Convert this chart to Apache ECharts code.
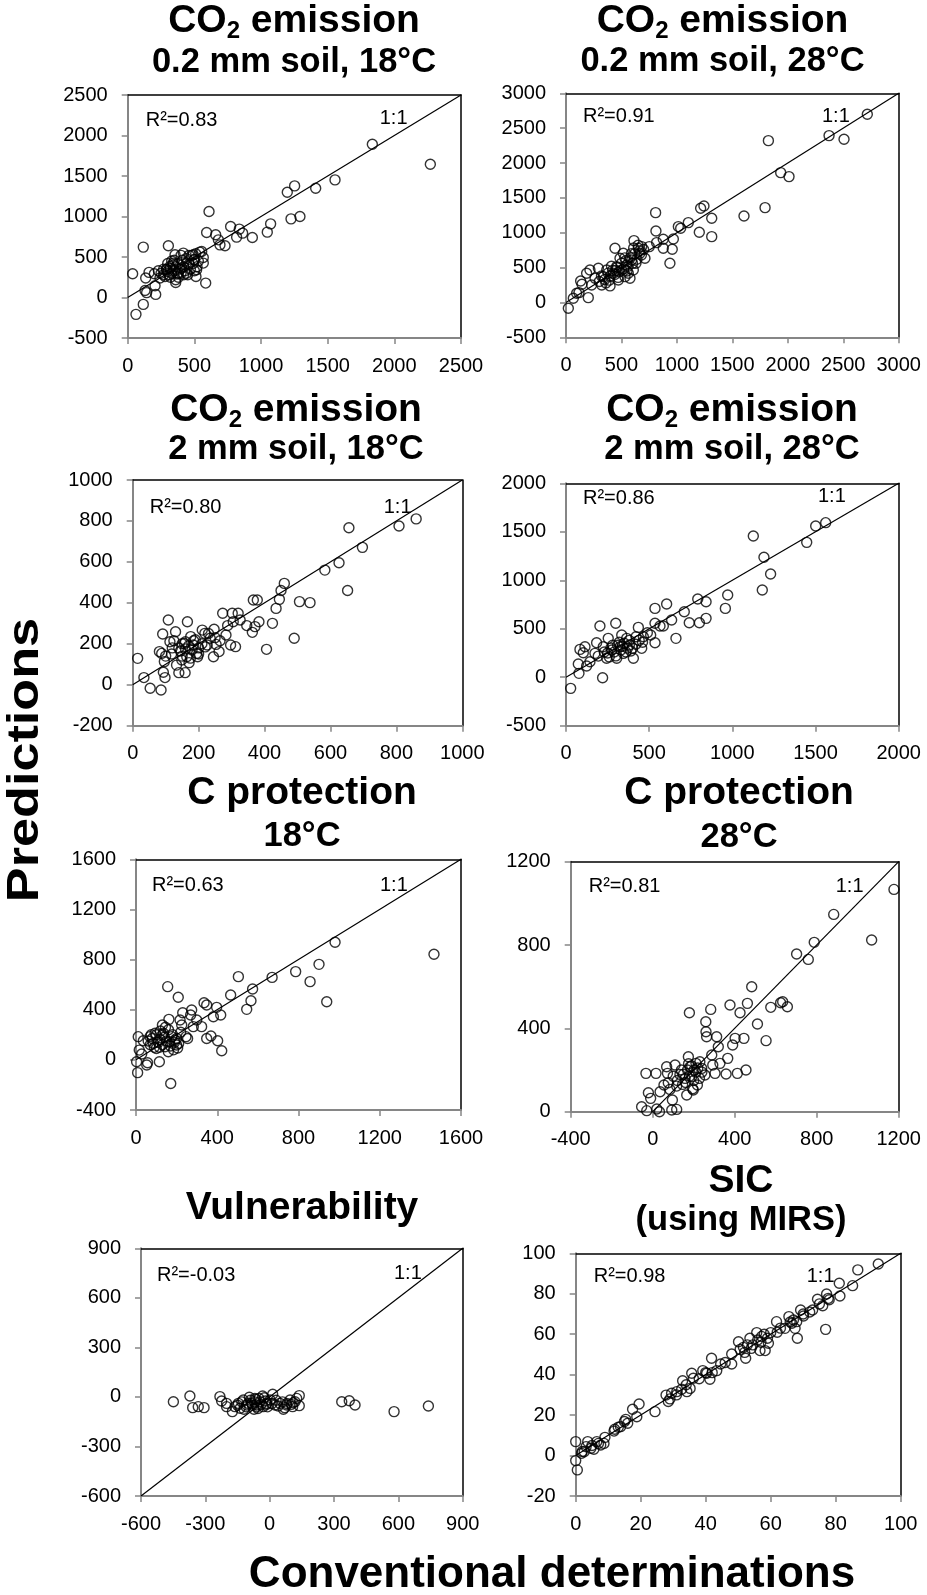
<!DOCTYPE html>
<html><head><meta charset="utf-8">
<script src="https://cdn.jsdelivr.net/npm/echarts@6/dist/echarts.min.js"></script>
<style>html,body{margin:0;padding:0;background:#fff}#c{width:927px;height:1595px}</style>
</head><body><div id="c"></div>
<script>
// ---------- DATA (conventional determination, prediction) ----------
const co2_02mm_18C = [[37,293],[117,622],[62,-208],[117,-85],[130,87],[142,60],[135,240],[160,310],[205,145],[210,38],[200,293],[230,330],[242,240],[305,638],[280,260],[292,342],[317,383],[342,425],[355,527],[360,186],[380,301],[405,363],[417,548],[442,425],[492,527],[497,466],[512,260],[517,342],[555,568],[567,494],[567,425],[585,178],[610,1061],[592,803],[660,774],[680,712],[692,650],[730,638],[772,877],[817,745],[837,844],[862,795],[935,741],[1047,807],[1072,909],[1197,1300],[1252,1378],[1225,971],[1292,1000],[1410,1349],[1555,1452],[1835,1892],[2270,1645],
[250,300],[270,280],[290,350],[300,320],[310,280],[320,360],[330,300],[340,400],[350,330],[360,380],[370,290],[380,420],[390,350],[400,300],[410,460],[420,380],[430,330],[440,480],[450,280],[460,410],[470,350],[480,520],[490,420],[500,470],[510,540],[520,380],[530,450],[540,560],[300,420],[320,250],[350,460],[380,250],[400,520],[420,280],[440,300],[270,350],[330,450],[360,220],[460,520],[500,330]];
const co2_02mm_28C = [[21,-84],[66,60],[96,131],[117,141],[132,308],[144,260],[186,418],[216,466],[201,69],[231,251],[262,347],[292,490],[322,251],[337,370],[367,466],[397,237],[427,418],[442,777],[457,514],[472,323],[487,633],[502,466],[517,705],[532,370],[547,538],[562,418],[577,347],[592,609],[607,466],[613,887],[631,562],[652,777],[667,705],[682,801],[712,633],[751,801],[808,1288],[811,1025],[817,858],[877,906],[877,777],[958,763],[968,911],[937,562],[1013,1088],[1034,1064],[1103,1145],[1202,1006],[1214,1351],[1244,1384],[1314,1207],[1314,944],[1605,1241],[1795,1360],[1825,2321],[1936,1862],[2011,1805],[2372,2393],[2507,2340],[2717,2699],
[300,300],[320,380],[350,330],[380,420],[400,380],[420,460],[440,400],[460,500],[480,440],[500,560],[520,480],[540,600],[560,520],[580,640],[600,560],[620,700],[640,620],[660,740],[680,680],[700,760],[360,280],[410,520],[470,360],[530,640],[590,700],[650,820],[550,450],[450,460],[390,320],[610,780]];
const co2_2mm_18C = [[15,129],[34,35],[53,-17],[86,-26],[81,162],[88,153],[91,248],[93,61],[98,35],[96,113],[108,316],[113,210],[118,150],[125,215],[130,259],[133,96],[140,59],[149,121],[159,59],[166,308],[157,202],[164,137],[171,108],[176,235],[184,194],[194,153],[197,137],[211,267],[219,251],[226,194],[235,227],[245,137],[247,271],[253,197],[262,162],[273,349],[283,243],[288,289],[297,194],[302,349],[305,308],[312,186],[320,349],[326,316],[346,289],[363,256],[366,414],[378,414],[371,284],[383,308],[406,173],[424,300],[435,373],[445,417],[450,460],[460,495],[490,227],[506,406],[538,401],[583,560],[626,596],[652,460],[656,767],[697,671],[808,775],[860,810],
[140,180],[150,200],[160,210],[170,190],[180,170],[190,220],[200,180],[210,200],[150,140],[175,130],[120,180],[100,140],[230,250],[250,230],[265,215],[200,150],[185,215],[145,165],[160,175],[220,185]];
const co2_2mm_28C = [[28,-115],[78,40],[74,136],[84,287],[114,315],[104,253],[124,115],[144,160],[174,246],[184,356],[194,218],[204,528],[220,-5],[224,315],[244,195],[254,401],[275,280],[299,556],[305,195],[325,315],[335,435],[345,246],[365,401],[381,332],[405,195],[421,418],[435,514],[455,298],[465,418],[489,459],[509,435],[535,556],[535,710],[535,356],[565,528],[585,528],[605,755],[635,590],[661,401],[711,676],[741,562],[792,807],[802,562],[842,779],[842,607],[958,710],[972,848],[1126,1457],[1180,900],[1190,1237],[1230,1065],[1447,1391],[1501,1560],[1561,1594],
[250,250],[270,300],[290,260],[310,330],[330,280],[350,350],[370,300],[390,270],[300,220],[320,360],[340,320],[360,260],[280,330],[230,260],[260,210],[380,380],[400,300],[420,340],[440,380],[460,360]];
const cprot_18C = [[3,-15],[8,-102],[11,185],[16,78],[28,47],[36,153],[53,-41],[57,-23],[69,185],[85,132],[94,212],[115,-15],[118,164],[130,278],[135,212],[143,105],[156,584],[159,65],[162,323],[171,-188],[176,185],[192,158],[200,118],[208,499],[217,318],[225,278],[230,376],[246,185],[254,171],[269,358],[274,398],[282,265],[299,318],[323,265],[335,456],[348,438],[348,171],[369,190],[381,344],[397,419],[402,153],[417,358],[422,73],[466,517],[504,664],[545,403],[566,472],[574,565],[670,658],[786,704],[857,624],[901,762],[939,464],[980,938],[1467,842],
[60,150],[70,120],[80,170],[90,100],[100,200],[110,140],[120,230],[130,120],[140,180],[150,150],[160,240],[170,110],[180,200],[190,140],[200,170],[210,130],[220,220],[100,90],[130,200],[75,200],[145,260],[115,100],[185,80],[165,145],[205,95]];
const cprot_28C = [[-54,24],[-29,5],[-33,184],[-21,91],[-10,64],[16,184],[20,13],[33,0],[36,96],[55,128],[68,216],[72,184],[76,139],[84,107],[96,56],[93,8],[109,224],[117,11],[117,123],[133,179],[146,131],[158,160],[166,80],[174,264],[179,475],[182,216],[190,168],[198,104],[202,200],[211,232],[218,128],[228,160],[239,208],[255,176],[259,432],[260,384],[263,360],[283,491],[288,272],[293,224],[304,184],[312,360],[320,312],[328,232],[358,181],[366,256],[377,512],[390,320],[402,352],[413,184],[426,475],[445,352],[455,200],[462,520],[483,600],[511,421],[553,341],[576,501],[624,523],[634,528],[657,504],[702,757],[759,731],[788,813],[883,947],[1068,824],[1177,1067],
[150,180],[170,200],[190,220],[200,150],[210,190],[160,140],[180,170],[220,210],[140,200],[230,240],[120,150],[100,170],[175,230],[195,110],[240,190]];
const vulnerability = [[-449,-29],[-372,6],[-359,-65],[-333,-59],[-306,-65],[-232,2],[-224,-25],[-201,-39],[-201,-59],[-174,-89],[-162,-59],[-146,-39],[-138,-69],[-123,-19],[-107,-49],[-95,-2],[-84,-39],[-73,-75],[-69,-9],[-61,-49],[-45,-29],[-30,-59],[-33,6],[-14,-39],[2,-19],[14,16],[25,-49],[48,-39],[64,-75],[79,-49],[95,-19],[107,-59],[118,-29],[126,-9],[138,8],[138,-53],[336,-29],[371,-23],[398,-49],[580,-89],[740,-55],
[-130,-30],[-110,-60],[-90,-20],[-80,-50],[-70,-30],[-60,-60],[-50,-10],[-40,-45],[-20,-25],[-10,-60],[10,-40],[30,-20],[40,-55],[60,-30],[80,-40],[100,-45],[-150,-50],[-100,-40],[-55,-70],[-25,-5],[110,-35],[-120,-75],[70,-65],[-15,-45],[-65,-15]];
const sic_mirs = [[0,6.9],[0,-2.5],[0.5,-7.1],[1.8,1.1],[2.6,1.9],[3.2,4.4],[3.7,6.9],[4.7,3.6],[5.6,3.1],[6.5,6.9],[7.0,6.0],[7.7,5.2],[8.7,6.0],[11.8,12.1],[13.1,14.0],[13.8,14.3],[15.0,16.8],[15.4,17.9],[17.5,22.9],[18.8,19.2],[19.5,25.5],[24.4,21.7],[27.8,29.9],[28.5,26.7],[29.5,30.8],[31.1,31.6],[32.6,32.8],[32.9,37.0],[34.2,31.6],[35.2,33.2],[35.7,40.7],[36.2,38.2],[39.1,42.0],[40.3,40.7],[41.3,37.7],[41.8,48.1],[43.4,42.0],[44.6,45.3],[48.0,45.3],[48.0,50.2],[50.1,56.3],[50.6,52.5],[51.6,53.5],[52.3,48.1],[52.8,54.7],[53.6,58.0],[54.5,54.7],[55.7,60.8],[56.0,57.1],[56.7,51.9],[57.2,58.9],[58.3,51.9],[59.3,55.5],[60.0,60.8],[61.8,66.2],[64.4,62.9],[65.6,68.7],[66.5,65.4],[67.5,62.9],[68.2,58.0],[68.0,66.2],[69.2,72.0],[70.1,69.0],[72.9,72.0],[74.4,77.3],[76.0,74.1],[76.9,62.4],[77.2,79.9],[77.7,77.7],[81.1,85.2],[81.3,78.9],[85.2,84.0],[86.8,91.8],[93.1,94.7],
[2,2],[5,5],[9,9],[12,13],[16,16],[29,28],[31,30],[34,35],[38,38],[40,41],[42,41],[46,46],[52,51],[54,53],[57,56],[59,58],[63,63],[66,66],[70,70],[72,71],[75,75],[78,77],[58,60],[62,61],[67,67]];

const panelData = [co2_02mm_18C, co2_02mm_28C, co2_2mm_18C, co2_2mm_28C, cprot_18C, cprot_28C, vulnerability, sic_mirs];
// axis ranges: [min, max, interval]
const xRanges = [[0,2500,500],[0,3000,500],[0,1000,200],[0,2000,500],[0,1600,400],[-400,1200,400],[-600,900,300],[0,100,20]];
const yRanges = [[-500,2500,500],[-500,3000,500],[-200,1000,200],[-500,2000,500],[-400,1600,400],[0,1200,400],[-600,900,300],[-20,100,20]];
const oneToOne = [[0,2500],[0,3000],[0,1000],[0,2000],[0,1600],[0,1200],[-600,900],[0,100]];
const r2Labels = ['R²=0.83','R²=0.91','R²=0.80','R²=0.86','R²=0.63','R²=0.81','R²=-0.03','R²=0.98'];
const titleLine1 = ['{a|CO}{s|2}{a| emission}','{a|CO}{s|2}{a| emission}','{a|CO}{s|2}{a| emission}','{a|CO}{s|2}{a| emission}','C protection','C protection','Vulnerability','SIC'];
const titleLine2 = ['0.2 mm soil, 18°C','0.2 mm soil, 28°C','2 mm soil, 18°C','2 mm soil, 28°C','18°C','28°C','','(using MIRS)'];
const yAxisTitle = 'Predictions';
const xAxisTitle = 'Conventional determinations';

// ---------- LAYOUT ----------
const grids = [
  {left:127.7, top:95,    width:333.3, height:243},
  {left:566,   top:93.3,  width:332.7, height:244},
  {left:132.7, top:480,   width:329.6, height:245.7},
  {left:566,   top:483.3, width:332.7, height:242.4},
  {left:136,   top:859.3, width:325,   height:250.7},
  {left:570.7, top:861.7, width:328,   height:250},
  {left:141,   top:1248.3,width:321.7, height:247.7},
  {left:575.7, top:1253.3,width:325,   height:242.7}
];
// title positions: [centerX, line1MiddleY, line2MiddleY]
const titlePos = [[294,21.3,62.5],[722.5,21.7,61.2],[296,410.5,449.7],[732,410.5,449],[302,793.3,836],[739,793.3,837.5],[302,1208.3,0],[741,1181,1220]];
// annotation positions relative to grid: [r2 dx, r2 dy, 1:1 left dx, dy]
const annPos = [[18,25,252,23],[17,23,256,23],[17,27,251,27],[17,15,252,13],[16,26,244,26],[18,25,265,25],[16,27,253,25],[18,23,231,23]];

const FONT = '"Liberation Sans", Arial, Helvetica, sans-serif';
const GRAY = '#868686';
const plainNum = v => String(v);

const chart = echarts.init(document.getElementById('c'), null, {renderer:'canvas'});
const xAxes = [], yAxes = [], series = [], graphic = [];
grids.forEach((g, i) => {
  const xr = xRanges[i], yr = yRanges[i];
  xAxes.push({gridIndex:i, type:'value', min:xr[0], max:xr[1], interval:xr[2], position:'bottom',
    axisLine:{show:true, onZero:false, lineStyle:{color:GRAY, width:2}},
    axisTick:{show:true, inside:false, length:6, lineStyle:{color:GRAY, width:1.5}},
    axisLabel:{fontSize:20, color:'#000', fontFamily:FONT, margin:18, showMinLabel:true, showMaxLabel:true, formatter:plainNum},
    splitLine:{show:false}});
  xAxes.push({gridIndex:i, type:'value', min:xr[0], max:xr[1], position:'top',
    axisLine:{show:true, onZero:false, lineStyle:{color:'#000', width:1.5}},
    axisTick:{show:false}, axisLabel:{show:false}, splitLine:{show:false}});
  yAxes.push({gridIndex:i, type:'value', min:yr[0], max:yr[1], interval:yr[2], position:'left',
    axisLine:{show:true, onZero:false, lineStyle:{color:GRAY, width:2}},
    axisTick:{show:true, inside:false, length:6, lineStyle:{color:GRAY, width:1.5}},
    axisLabel:{fontSize:20, color:'#000', fontFamily:FONT, margin:20, showMinLabel:true, showMaxLabel:true, formatter:plainNum},
    splitLine:{show:false}});
  yAxes.push({gridIndex:i, type:'value', min:yr[0], max:yr[1], position:'right',
    axisLine:{show:true, onZero:false, lineStyle:{color:'#000', width:1.5}},
    axisTick:{show:false}, axisLabel:{show:false}, splitLine:{show:false}});
  const l = oneToOne[i];
  series.push({type:'line', xAxisIndex:2*i, yAxisIndex:2*i, data:[[l[0],l[0]],[l[1],l[1]]],
    symbol:'none', clip:true, lineStyle:{color:'#000', width:1.2}, z:2, silent:true});
  series.push({type:'scatter', xAxisIndex:2*i, yAxisIndex:2*i, data:panelData[i], symbol:'circle', symbolSize:10,
    itemStyle:{color:'rgba(255,255,255,0)', borderColor:'#000', borderWidth:1.4}, z:3, silent:true});

  // titles
  const tp = titlePos[i];
  graphic.push({type:'text', x:tp[0], y:tp[1], style:{text:titleLine1[i], fontSize:39, fontWeight:'bold', fontFamily:FONT,
    fill:'#000', align:'center', verticalAlign:'middle',
    rich:{a:{fontSize:39, fontWeight:'bold', fontFamily:FONT, lineHeight:44, fill:'#000'},
          s:{fontSize:24, fontWeight:'bold', fontFamily:FONT, lineHeight:20, verticalAlign:'bottom', fill:'#000'}}}});
  if (titleLine2[i]) {
    graphic.push({type:'text', x:tp[0], y:tp[2], style:{text:titleLine2[i], fontSize:34.5, fontWeight:'bold', fontFamily:FONT,
      fill:'#000', align:'center', verticalAlign:'middle'}});
  }
  const ap = annPos[i];
  graphic.push({type:'text', x:g.left+ap[0], y:g.top+ap[1], style:{text:r2Labels[i], fontSize:20, fontFamily:FONT, fill:'#000', align:'left', verticalAlign:'middle'}});
  graphic.push({type:'text', x:g.left+ap[2], y:g.top+ap[3], style:{text:'1:1', fontSize:20, fontFamily:FONT, fill:'#000', align:'left', verticalAlign:'middle'}});
});
graphic.push({type:'text', x:26, y:760, rotation:Math.PI/2, scaleX:1.16, style:{text:yAxisTitle, fontSize:45, fontWeight:'bold', fontFamily:FONT, fill:'#000', align:'center', verticalAlign:'middle'}});
graphic.push({type:'text', x:552, y:1575, style:{text:xAxisTitle, fontSize:44, fontWeight:'bold', fontFamily:FONT, fill:'#000', align:'center', verticalAlign:'middle'}});

chart.setOption({
  animation:false,
  backgroundColor:'#fff',
  grid: grids.map(g => Object.assign({show:false, containLabel:false}, g)),
  xAxis: xAxes,
  yAxis: yAxes,
  series: series,
  graphic: graphic
});
</script>
</body></html>
